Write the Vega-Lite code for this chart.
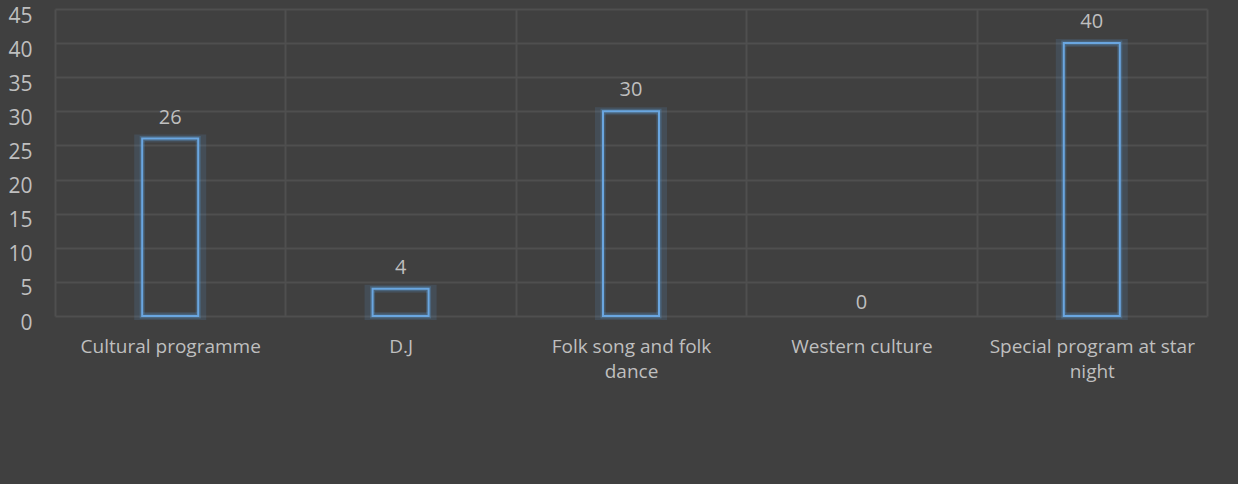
{
  "$schema": "https://vega.github.io/schema/vega-lite/v6.json",
  "width": 1152,
  "height": 307,
  "autosize": {"type": "none"},
  "padding": {"left": 55, "top": 9, "right": 31, "bottom": 168},
  "background": "#404040",
  "config": {
    "view": {"stroke": null},
    "font": "Open Sans"
  },
  "data": {
    "values": [
      {"category": "Cultural programme", "value": 26},
      {"category": "D.J", "value": 4},
      {"category": "Folk song and folk dance", "value": 30},
      {"category": "Western culture", "value": 0},
      {"category": "Special program at star night", "value": 40}
    ]
  },
  "encoding": {
    "x": {
      "field": "category",
      "type": "nominal",
      "sort": ["Cultural programme", "D.J", "Folk song and folk dance", "Western culture", "Special program at star night"],
      "scale": {"paddingInner": 0, "paddingOuter": 0},
      "axis": {
        "title": null,
        "labelAngle": 0,
        "labelColor": "#bfbfbf",
        "labelFontSize": 19,
        "labelPadding": 21,
        "labelLineHeight": 25,
        "labelLimit": 400,
        "labelBaseline": "top",
        "labelExpr": "datum.value == 'Folk song and folk dance' ? ['Folk song and folk', 'dance'] : datum.value == 'Special program at star night' ? ['Special program at star', 'night'] : datum.value",
        "ticks": false,
        "domain": false,
        "grid": true,
        "tickBand": "extent",
        "gridColor": "#4f4f4f",
        "gridWidth": 2
      }
    },
    "y": {
      "field": "value",
      "type": "quantitative",
      "scale": {"domain": [0, 45], "nice": false},
      "axis": {
        "title": null,
        "values": [0, 5, 10, 15, 20, 25, 30, 35, 40, 45],
        "labelColor": "#bfbfbf",
        "labelFontSize": 21,
        "labelPadding": 23,
        "labelOffset": 7,
        "ticks": false,
        "domain": false,
        "grid": true,
        "gridColor": "#4f4f4f",
        "gridWidth": 2
      }
    }
  },
  "layer": [
    {
      "transform": [{"filter": "datum.value > 0"}],
      "mark": {"type": "bar", "size": 64, "fill": null, "stroke": "#5b9bd5", "strokeWidth": 8, "strokeOpacity": 0.15}
    },
    {
      "transform": [{"filter": "datum.value > 0"}],
      "mark": {"type": "bar", "size": 56, "fill": null, "stroke": "#5b9bd5", "strokeWidth": 5, "strokeOpacity": 0.3}
    },
    {
      "transform": [{"filter": "datum.value > 0"}],
      "mark": {"type": "bar", "size": 56, "fill": null, "stroke": "#6aa6e0", "strokeWidth": 2}
    },
    {
      "transform": [{"filter": "datum.value > 0"}],
      "mark": {"type": "text", "dy": -21, "fontSize": 20, "color": "#bfbfbf"},
      "encoding": {"text": {"field": "value", "type": "quantitative"}}
    },
    {
      "transform": [{"filter": "datum.value == 0"}],
      "mark": {"type": "text", "dy": -13, "fontSize": 20, "color": "#bfbfbf"},
      "encoding": {"text": {"field": "value", "type": "quantitative"}}
    }
  ]
}
